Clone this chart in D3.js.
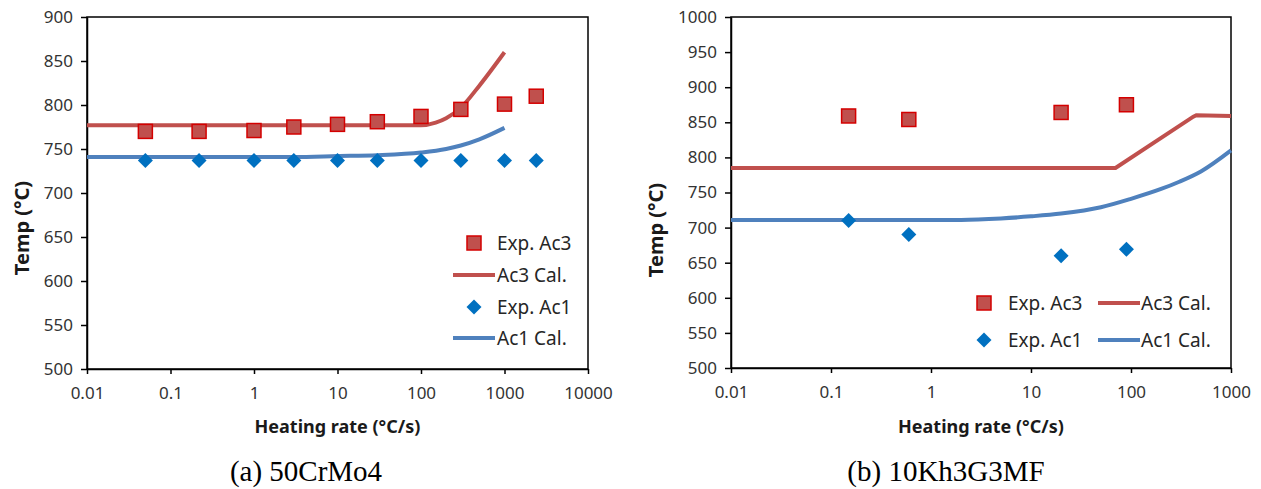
<!DOCTYPE html>
<html>
<head>
<meta charset="utf-8">
<script src="https://cdn.jsdelivr.net/npm/d3@7"></script>
<style>
  body { margin: 0; background: #fff; }
  text { font-family: 'Noto Sans', sans-serif; }
</style>
</head>
<body>
<div id="chart"></div>
<script>
// (a) 50CrMo4
let expRateA = [0.05, 0.22, 1, 3, 10, 30, 100, 300, 1000, 2400];
let expAc3A = [770, 770, 771, 775, 778, 781, 787, 795, 801, 810];
let expAc1A = [737, 737, 737, 737, 737, 737, 737, 737, 737, 737];
let calRateAc3A = [0.01, 1, 10, 100, 150, 200, 300, 500, 1000];
let calAc3A = [777, 777, 777, 777, 780, 785, 797, 822, 860];
let calRateAc1A = [0.01, 1, 3, 10, 30, 100, 200, 300, 500, 1000];
let calAc1A = [741, 741, 741, 742, 743, 746, 750, 754, 761, 774];

// (b) 10Kh3G3MF
let expRateB = [0.15, 0.6, 20, 90];
let expAc3B = [859, 854, 864, 875];
let expAc1B = [710, 690, 660, 669];
let calRateAc3B = [0.01, 1, 10, 70, 420, 450, 1000];
let calAc3B = [785, 785, 785, 785, 858, 860, 859];
let calRateAc1B = [0.01, 1, 2, 5, 10, 20, 50, 100, 200, 300, 500, 1000];
let calAc1B = [711, 711, 711, 713, 716, 720, 729, 741, 755, 765, 780, 810];

let xTicksA = [0.01, 0.1, 1, 10, 100, 1000, 10000];
let xTicksB = [0.01, 0.1, 1, 10, 100, 1000];
let yTicksA = [500, 550, 600, 650, 700, 750, 800, 850, 900];
let yTicksB = [500, 550, 600, 650, 700, 750, 800, 850, 900, 950, 1000];

let svgWidth = 1261;
let svgHeight = 489;

let red = '#c0504d';
let blue = '#4f81bd';
let diamondBlue = '#0070c0';

let svg = d3.select('#chart')
  .append('svg')
  .attr('width', svgWidth)
  .attr('height', svgHeight);

function fmt(v) {
  return v < 1 ? String(v) : d3.format('d')(v);
}

function drawMarker(g, kind, x, y) {
  if (kind === 'square') {
    g.append('rect')
      .attr('x', x - 7).attr('y', y - 7)
      .attr('width', 14).attr('height', 14)
      .attr('fill', red)
      .attr('stroke', '#d40000')
      .attr('stroke-width', 1.5);
  } else {
    g.append('rect')
      .attr('x', -5.3).attr('y', -5.3)
      .attr('width', 10.6).attr('height', 10.6)
      .attr('fill', diamondBlue)
      .attr('transform', `translate(${x},${y}) rotate(45)`);
  }
}

function drawPanel(p) {
  let x = d3.scaleLog().domain(p.xDomain).range([p.left, p.right]);
  let y = d3.scaleLinear().domain(p.yDomain).range([p.bottom, p.top]);

  let g = svg.append('g');

  // frame
  g.append('rect')
    .attr('x', p.left).attr('y', p.top)
    .attr('width', p.right - p.left).attr('height', p.bottom - p.top)
    .attr('fill', 'none')
    .attr('stroke', '#000')
    .attr('stroke-width', 1.5);

  let bottomAxis = d3.axisBottom(x)
    .tickValues(p.xTicks)
    .tickFormat(fmt)
    .tickSizeInner(5)
    .tickSizeOuter(0)
    .tickPadding(13);

  let leftAxis = d3.axisLeft(y)
    .tickValues(p.yTicks)
    .tickFormat(d3.format('d'))
    .tickSizeInner(6)
    .tickSizeOuter(0)
    .tickPadding(8);

  let xAxis = g.append('g')
    .attr('transform', `translate(0,${p.bottom})`)
    .call(bottomAxis);
  let yAxis = g.append('g')
    .attr('transform', `translate(${p.left},0)`)
    .call(leftAxis);

  [xAxis, yAxis].forEach(a => {
    a.select('.domain').attr('stroke', '#000').attr('stroke-width', 1.5);
    a.selectAll('.tick line').attr('stroke', '#000').attr('stroke-width', 1.5);
    a.selectAll('.tick text')
      .attr('fill', '#333')
      .attr('font-size', 17)
      .style('font-family', "'Noto Sans', sans-serif");
  });

  // calculated curves
  let line = d3.line()
    .x(d => x(d[0]))
    .y(d => y(d[1]));

  g.append('path')
    .datum(d3.zip(p.calRateAc3, p.calAc3))
    .attr('d', line.curve(p.ac3Curve))
    .attr('fill', 'none')
    .attr('stroke', red)
    .attr('stroke-width', 4);

  g.append('path')
    .datum(d3.zip(p.calRateAc1, p.calAc1))
    .attr('d', line.curve(d3.curveMonotoneX))
    .attr('fill', 'none')
    .attr('stroke', blue)
    .attr('stroke-width', 4);

  // experimental points
  p.expRate.forEach((r, i) => {
    drawMarker(g, 'square', x(r), y(p.expAc3[i]));
  });
  p.expRate.forEach((r, i) => {
    drawMarker(g, 'diamond', x(r), y(p.expAc1[i]));
  });

  // axis titles
  g.append('text')
    .attr('x', (p.left + p.right) / 2)
    .attr('y', 433)
    .attr('text-anchor', 'middle')
    .attr('font-size', 18)
    .attr('font-weight', 700)
    .attr('fill', '#1a1a1a')
    .text('Heating rate (°C/s)');

  g.append('text')
    .attr('transform', `translate(${p.yTitleX},${p.yTitleY}) rotate(-90)`)
    .attr('text-anchor', 'middle')
    .attr('font-size', 20)
    .attr('font-weight', 700)
    .attr('fill', '#1a1a1a')
    .text('Temp (°C)');

  // legend
  p.legend.forEach(item => {
    if (item.kind === 'line') {
      g.append('line')
        .attr('x1', item.mx - 21).attr('x2', item.mx + 21)
        .attr('y1', item.y).attr('y2', item.y)
        .attr('stroke', item.color)
        .attr('stroke-width', 4);
    } else {
      drawMarker(g, item.kind, item.mx, item.y);
    }
    g.append('text')
      .attr('x', item.tx)
      .attr('y', item.y)
      .attr('dy', '0.35em')
      .attr('font-size', 19)
      .attr('fill', '#262626')
      .text(item.label);
  });

  // caption
  g.append('text')
    .attr('x', p.captionX)
    .attr('y', 481)
    .attr('text-anchor', 'middle')
    .attr('font-size', 29)
    .style('font-family', "'Liberation Serif', 'Times New Roman', serif")
    .attr('fill', '#000')
    .text(p.caption);
}

drawPanel({
  left: 87, right: 588, top: 17, bottom: 369,
  xDomain: [0.01, 10000], yDomain: [500, 900],
  xTicks: xTicksA, yTicks: yTicksA,
  expRate: expRateA, expAc3: expAc3A, expAc1: expAc1A,
  calRateAc3: calRateAc3A, calAc3: calAc3A, ac3Curve: d3.curveMonotoneX,
  calRateAc1: calRateAc1A, calAc1: calAc1A,
  yTitleX: 29, yTitleY: 228,
  legend: [
    { kind: 'square', mx: 474, y: 243, tx: 497, label: 'Exp. Ac3' },
    { kind: 'line', color: red, mx: 474, y: 275, tx: 497, label: 'Ac3 Cal.' },
    { kind: 'diamond', mx: 474, y: 307, tx: 497, label: 'Exp. Ac1' },
    { kind: 'line', color: blue, mx: 474, y: 338, tx: 497, label: 'Ac1 Cal.' }
  ],
  captionX: 306, caption: '(a) 50CrMo4'
});

drawPanel({
  left: 731, right: 1231, top: 17, bottom: 368,
  xDomain: [0.01, 1000], yDomain: [500, 1000],
  xTicks: xTicksB, yTicks: yTicksB,
  expRate: expRateB, expAc3: expAc3B, expAc1: expAc1B,
  calRateAc3: calRateAc3B, calAc3: calAc3B, ac3Curve: d3.curveLinear,
  calRateAc1: calRateAc1B, calAc1: calAc1B,
  yTitleX: 663, yTitleY: 230,
  legend: [
    { kind: 'square', mx: 984, y: 303, tx: 1008, label: 'Exp. Ac3' },
    { kind: 'line', color: red, mx: 1119, y: 303, tx: 1141, label: 'Ac3 Cal.' },
    { kind: 'diamond', mx: 984, y: 340, tx: 1008, label: 'Exp. Ac1' },
    { kind: 'line', color: blue, mx: 1119, y: 340, tx: 1141, label: 'Ac1 Cal.' }
  ],
  captionX: 946, caption: '(b) 10Kh3G3MF'
});
</script>
</body>
</html>
